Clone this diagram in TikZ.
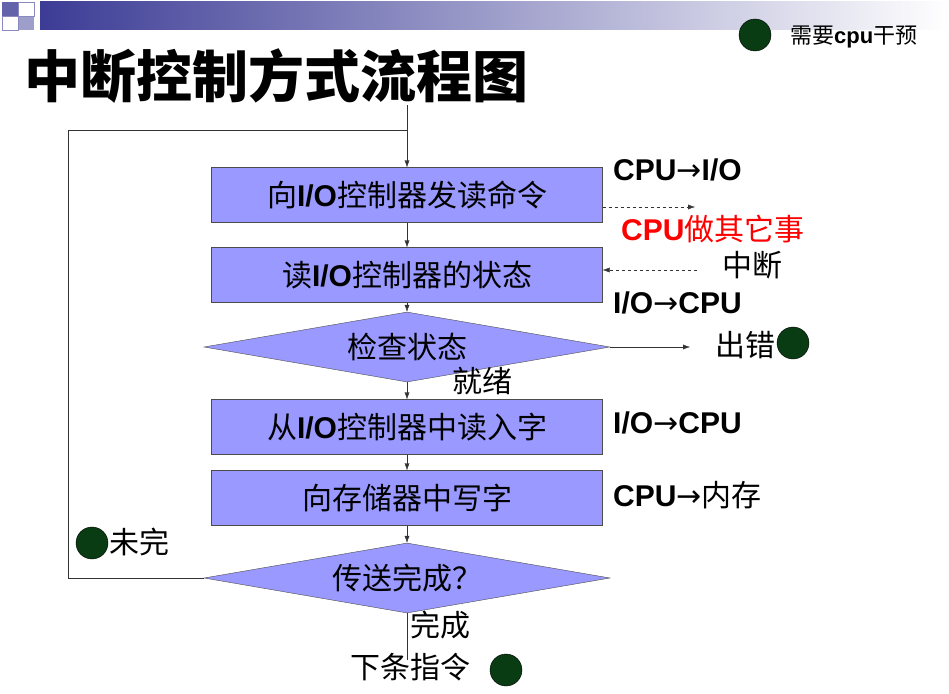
\documentclass[tikz,border=0pt]{standalone}
\usepackage{fontspec}
\setmainfont{Liberation Sans}
\newfontfamily\cjk{Noto Sans CJK SC}
\newfontfamily\arrfont{DejaVu Sans}
\usetikzlibrary{shapes.geometric,arrows.meta}
\definecolor{boxfill}{RGB}{153,153,255}
\definecolor{dotgreen}{RGB}{10,60,20}
\definecolor{barnavy}{RGB}{60,60,150}
\tikzset{
 x=1pt,y=-1pt,
 stepbox/.style={draw=black!70,fill=boxfill,minimum width=391pt,minimum height=55pt,inner sep=0pt,font=\fontsize{30}{32}\selectfont},
 decide/.style={draw=black!70,fill=boxfill,diamond,aspect=5.8,minimum width=406pt,minimum height=70pt,inner sep=0pt,font=\fontsize{30}{32}\selectfont},
 flow/.style={-{Latex[length=7pt,width=5pt]},black!80},
 lbl/.style={font=\fontsize{30}{32}\selectfont\bfseries,inner sep=0pt,anchor=west},
 note/.style={font=\fontsize{30}{32}\selectfont,inner sep=0pt},
 dot/.style={circle,draw=black,fill=dotgreen,minimum size=32pt,inner sep=0pt}
}
\newcommand{\cj}[1]{{\cjk #1}}
\newcommand{\ar}{{\arrfont\mdseries →}}
\begin{document}
\begin{tikzpicture}
\useasboundingbox (0,0) rectangle (949,693);
\fill[white] (0,0) rectangle (949,693);
\shade[left color=barnavy,right color=white] (40,2) rectangle (949,30);
\fill[barnavy!80] (2,2) rectangle (18,16);
\fill[barnavy!50] (18,16) rectangle (34,30);
\draw[barnavy!60] (2,16) rectangle (18,30) (18,2) rectangle (34,16);
\node[inner sep=0pt,anchor=west,font=\fontsize{56}{58}\selectfont\cjk\bfseries] (title) at (24,76) {中断控制方式流程图};
\node[dot] (d0) at (755,35) {};
\node[note,font=\fontsize{22}{24}\selectfont,anchor=west] (need) at (790,37) {\cj{需要}\textbf{cpu}\cj{干预}};

\node[stepbox] (b1) at (407,195) {\cj{向}\textbf{I/O}\cj{控制器发读命令}};
\node[stepbox] (b2) at (407,275) {\cj{读}\textbf{I/O}\cj{控制器的状态}};
\node[decide] (q1) at (407,347) {\cj{检查状态}};
\node[stepbox] (b3) at (407,427) {\cj{从}\textbf{I/O}\cj{控制器中读入字}};
\node[stepbox] (b4) at (407,498) {\cj{向存储器中写字}};
\node[decide] (q2) at (407,578) {\cj{传送完成？}};

\coordinate (top) at (407,105);
\coordinate (lt) at (68,130);
\coordinate (lb) at (68,578);
\coordinate (jn) at (407,130);
\coordinate (e1) at (695,207);
\coordinate (s2) at (697,270);
\coordinate (e3) at (690,347);
\coordinate (e4) at (407,660);

\draw[flow] (top) -- (b1);
\draw[black!80] (q2.west) -- (lb) -- (lt) -- (jn);
\draw[flow] (b1) -- (b2);
\draw[flow] (b2) -- (q1);
\draw[flow] (q1) -- (b3);
\draw[flow] (b3) -- (b4);
\draw[flow] (b4) -- (q2);
\draw[flow,dashed] (b1.east |- e1) -- (e1);
\draw[flow,dashed] (s2) -- (b2.east |- s2);
\draw[flow] (q1.east) -- (e3);
\draw[black!80] (q2.south) -- (e4);

\node[lbl] (t1) at (613,170) {CPU\ar I/O};
\node[note,text=red,anchor=west] (t2) at (621,229) {\textbf{CPU}\cj{做其它事}};
\node[note] (t3) at (752,265) {\cj{中断}};
\node[lbl] (t4) at (613,303) {I/O\ar CPU};
\node[note] (t5) at (745,345) {\cj{出错}};
\node[dot] (d1) at (793,343) {};
\node[note] (t6) at (482,381) {\cj{就绪}};
\node[lbl] (t7) at (613,423) {I/O\ar CPU};
\node[note,anchor=west] (t8) at (613,495) {\textbf{CPU}\ar\cj{内存}};
\node[dot] (d2) at (92,543) {};
\node[note] (t9) at (139,542) {\cj{未完}};
\node[note] (t10) at (440,625) {\cj{完成}};
\node[note] (t11) at (410,667) {\cj{下条指令}};
\node[dot] (d3) at (506,670) {};
\end{tikzpicture}
\end{document}
